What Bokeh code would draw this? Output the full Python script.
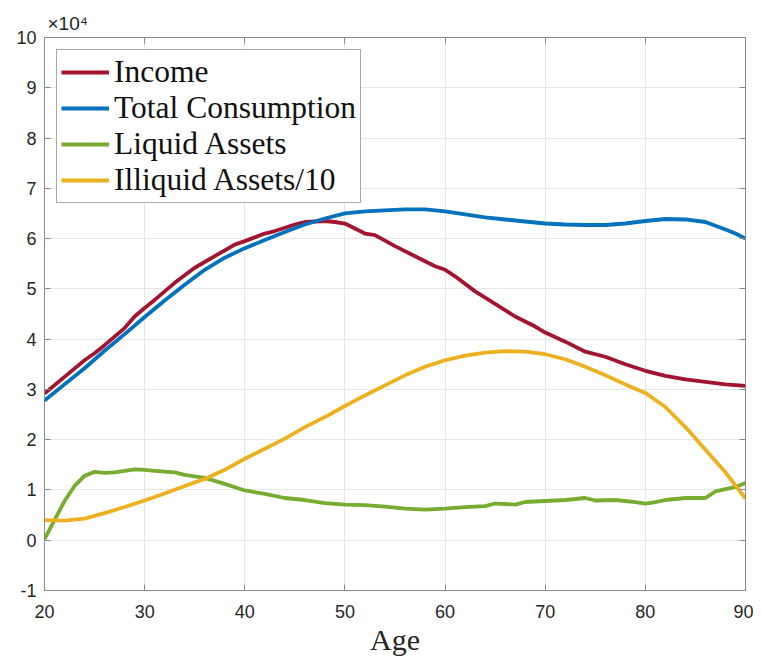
from bokeh.plotting import figure
from bokeh.models import Range1d, LinearAxis, Legend, LegendItem, CustomLabelingPolicy
from bokeh.embed import file_html
from bokeh.resources import INLINE

# ---- data (values in units of 1e4) ----
income_age = [20, 22, 24, 25, 26, 28, 29, 30, 31, 33, 35, 37, 39, 40, 42, 43, 45, 46, 48, 49, 50,
              51, 52, 53, 55, 57, 59, 60, 61, 63, 65, 67, 69, 70, 72, 74, 76, 78, 80, 82, 84, 86, 88, 90]
income = [2.92, 3.25, 3.58, 3.72, 3.88, 4.22, 4.45, 4.62, 4.78, 5.12, 5.42, 5.65, 5.88, 5.95, 6.10, 6.15,
          6.28, 6.33, 6.35, 6.33, 6.30, 6.20, 6.10, 6.07, 5.85, 5.65, 5.45, 5.38, 5.25, 4.95, 4.70, 4.45,
          4.25, 4.13, 3.95, 3.75, 3.65, 3.50, 3.37, 3.27, 3.20, 3.15, 3.10, 3.07]

cons_age = [20, 22, 24, 26, 28, 30, 32, 34, 36, 38, 40, 42, 44, 46, 48, 50, 52, 54, 56, 58, 60,
            62, 64, 66, 68, 70, 72, 74, 76, 78, 80, 82, 84, 86, 88, 89, 90]
consumption = [2.78, 3.10, 3.42, 3.77, 4.10, 4.44, 4.77, 5.08, 5.38, 5.62, 5.81, 5.97, 6.13, 6.28, 6.40,
               6.50, 6.54, 6.56, 6.58, 6.58, 6.54, 6.48, 6.42, 6.38, 6.34, 6.30, 6.28, 6.27, 6.27, 6.30,
               6.35, 6.39, 6.38, 6.33, 6.18, 6.10, 6.00]

liq_age = [20, 21, 22, 23, 24, 25, 26, 27, 28, 29, 30, 31, 33, 34, 36, 38, 40, 42, 44, 46, 48, 50,
           52, 54, 56, 58, 60, 62, 64, 65, 67, 68, 70, 72, 74, 75, 77, 79, 80, 81, 82, 84, 86, 87, 89, 90]
liquid = [0.02, 0.40, 0.78, 1.08, 1.28, 1.36, 1.34, 1.35, 1.38, 1.41, 1.40, 1.38, 1.35, 1.30, 1.24,
          1.12, 0.99, 0.92, 0.84, 0.80, 0.74, 0.71, 0.70, 0.67, 0.63, 0.61, 0.63, 0.66, 0.68, 0.73, 0.71,
          0.76, 0.78, 0.80, 0.84, 0.79, 0.80, 0.76, 0.73, 0.76, 0.80, 0.84, 0.84, 0.97, 1.06, 1.14]

illiq_age = [20, 22, 24, 26, 28, 30, 32, 34, 36, 38, 40, 42, 44, 46, 48, 50, 52, 54, 56, 58, 60,
             62, 64, 66, 68, 70, 72, 74, 76, 78, 80, 82, 84, 86, 88, 90]
illiquid10 = [0.40, 0.39, 0.43, 0.54, 0.66, 0.79, 0.93, 1.08, 1.22, 1.40, 1.62, 1.82, 2.02, 2.25, 2.45,
              2.67, 2.88, 3.08, 3.28, 3.45, 3.58, 3.67, 3.73, 3.76, 3.75, 3.70, 3.60, 3.45, 3.28, 3.10,
              2.93, 2.65, 2.25, 1.80, 1.35, 0.83]

x_ticks = [20, 30, 40, 50, 60, 70, 80, 90]
y_ticks = [-1, 0, 1, 2, 3, 4, 5, 6, 7, 8, 9, 10]
y_tick_labels = {-1: "-1"}
exponent_text = "×10⁴"

names = ["Income", "Total Consumption", "Liquid Assets", "Illiquid Assets/10"]
colors = ["#A2142F", "#0072BD", "#77AC30", "#EDB120"]

AX = "#8a8a8a"
TICK_FONT = "Liberation Sans"
SERIF = "Liberation Serif"

p = figure(width=753, height=658, output_backend="svg", toolbar_location=None,
           x_range=Range1d(20, 90), y_range=Range1d(-1, 10),
           min_border_left=44, min_border_right=8, min_border_top=37, min_border_bottom=65)
p.background_fill_color = "white"
p.border_fill_color = "white"
p.outline_line_color = AX
p.outline_line_width = 1

p.title.text = exponent_text
p.title.text_font = TICK_FONT
p.title.text_font_size = "19px"
p.title.text_font_style = "normal"
p.title.text_color = "#262626"
p.title.align = "left"
p.title.offset = 3
p.title.standoff = 0
p.title.text_line_height = 0.6

for ax in (p.xaxis[0], p.yaxis[0]):
    ax.axis_line_color = AX
    ax.major_tick_line_color = AX
    ax.major_tick_in = 6
    ax.major_tick_out = 0
    ax.minor_tick_line_color = None
    ax.major_label_text_font = TICK_FONT
    ax.major_label_text_font_size = "18px"
    ax.major_label_text_color = "#262626"
p.xaxis.ticker = x_ticks
p.yaxis.ticker = y_ticks
p.yaxis.major_label_overrides = y_tick_labels
p.xaxis.major_label_standoff = 14
p.yaxis.major_label_standoff = 8
p.xaxis.axis_label = "Age"
p.xaxis.axis_label_text_font = SERIF
p.xaxis.axis_label_text_font_style = "normal"
p.xaxis.axis_label_text_font_size = "30px"
p.xaxis.axis_label_text_color = "#262626"
p.xaxis.axis_label_standoff = 2

hide_labels = "for (const i of indices) { indices.unset(i) }\nreturn indices"

# box: top and right axes with inward ticks, no labels
top = LinearAxis(ticker=x_ticks, axis_line_color=AX,
                 major_tick_line_color=AX, major_tick_in=6, major_tick_out=0,
                 minor_tick_line_color=None, major_label_standoff=0, axis_label_standoff=0,
                 major_label_text_font_size="1px",
                 major_label_policy=CustomLabelingPolicy(code=hide_labels))
right = LinearAxis(ticker=y_ticks, axis_line_color=AX,
                   major_tick_line_color=AX, major_tick_in=6, major_tick_out=0,
                   minor_tick_line_color=None, major_label_standoff=0, axis_label_standoff=0,
                   major_label_text_font_size="1px",
                   major_label_policy=CustomLabelingPolicy(code=hide_labels))
p.add_layout(top, "above")
p.add_layout(right, "right")

p.xgrid.ticker = x_ticks
p.ygrid.ticker = y_ticks
p.grid.grid_line_color = "#e6e6e6"
p.grid.grid_line_width = 1

data = [(income_age, income), (cons_age, consumption), (liq_age, liquid), (illiq_age, illiquid10)]
renderers = []
for (xs, ys), c in zip(data, colors):
    r = p.line(xs, ys, line_color=c, line_width=3.8)
    renderers.append(r)

legend = Legend(items=[LegendItem(label=n, renderers=[r]) for n, r in zip(names, renderers)],
                location="top_left")
legend.label_text_font = SERIF
legend.label_text_font_size = "31.5px"
legend.label_text_color = "#111111"
legend.glyph_width = 48
legend.glyph_height = 34
legend.label_height = 34
legend.label_standoff = 5
legend.spacing = 0
legend.padding = 4
legend.margin = 12
legend.border_line_color = "#555555"
legend.border_line_width = 1
legend.background_fill_alpha = 1
legend.label_text_baseline = "middle"
p.add_layout(legend, "center")

open("out.html", "w").write(file_html(p, INLINE))
